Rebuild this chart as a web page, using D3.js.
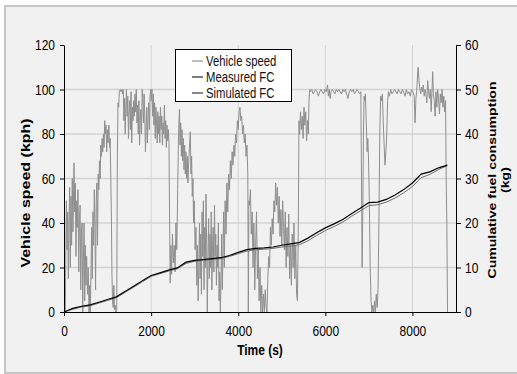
<!DOCTYPE html>
<html>
<head>
<meta charset="utf-8">
<script src="https://cdn.jsdelivr.net/npm/d3@7"></script>
<style>
  body { margin: 0; background: #fff; }
  svg { display: block; }
  text { font-family: "Liberation Sans", Arial, sans-serif; }
</style>
</head>
<body>
<svg id="chart" width="517" height="374"></svg>
<script>
// vehicle speed trace: [time (s), speed (kph)]
const speedData = [
  [0,0],[30,0],[46,35],[55,50],[70,28],[85,45],[100,15],[115,40],[130,56],[145,20],[160,52],[175,30],[190,60],[205,36],[220,55],[230,67],[245,45],[260,58],[275,25],[290,50],[305,38],[320,55],[340,18],[355,42],[370,48],[385,10],[400,35],[415,40],[430,0],[445,22],[460,40],[475,5],[490,30],[505,12],[520,25],[540,8],[555,20],[575,0],[590,12],[605,0],[620,18],[635,38],[650,15],[665,45],[680,30],[695,55],[710,40],[725,10],[740,50],[755,58],[770,30],[785,62],[800,55],[815,68],[830,60],[845,75],[860,70],[875,78],[890,72],[905,80],[920,74],[935,86],[950,80],[965,84],[980,72],[995,82],[1010,76],[1030,84],[1045,74],[1060,78],[1075,60],[1090,40],[1100,18],[1115,5],[1130,2],[1145,12],[1160,1],[1175,3],[1195,0],[1210,1],[1225,70],[1240,94],[1255,92],[1270,99],
  [1290,100],[1310,99],[1330,100],[1345,98],[1360,100],[1375,86],[1390,96],[1405,80],[1420,93],[1435,100],[1450,88],[1465,97],[1480,78],[1495,90],[1510,95],[1525,82],[1540,99],[1555,76],[1570,92],[1585,86],[1600,95],[1615,88],[1630,98],[1645,90],[1660,100],[1675,85],[1690,93],[1705,80],[1720,95],[1735,75],[1750,86],[1765,91],[1780,80],[1795,100],[1810,96],[1825,85],[1840,98],[1855,88],[1870,72],[1885,82],[1900,92],[1915,76],[1930,88],[1945,94],[1960,82],[1975,97],[1990,100],[2005,95],[2020,100],[2035,88],[2050,98],[2065,84],[2080,94],[2095,78],[2110,92],[2125,85],[2140,76],[2155,90],[2170,80],[2185,88],[2200,76],[2215,92],[2230,82],[2245,88],[2260,75],[2275,85],[2290,80],[2305,93],[2320,78],[2335,86],[2350,74],[2365,84],[2380,77],[2395,82],[2410,76],[2425,40],[2438,13],
  [2455,30],[2470,17],[2490,35],[2510,22],[2530,30],[2550,18],[2570,40],[2590,28],[2610,55],[2630,80],[2650,91],[2665,75],[2680,85],[2695,70],[2710,82],[2725,68],[2740,78],[2755,64],[2770,75],[2785,62],[2800,72],[2815,60],[2830,70],[2845,58],[2860,66],[2880,74],[2900,81],[2915,62],[2930,70],[2945,52],[2960,60],[2975,40],[2990,50],[3010,28],[3030,38],[3050,12],[3065,30],[3080,5],[3095,20],[3110,40],[3125,15],[3140,35],[3155,8],[3170,45],[3185,25],[3200,50],[3215,10],[3230,38],[3245,20],[3260,53],[3275,30],[3290,0],[3305,25],[3320,42],[3335,15],[3350,35],[3365,20],[3380,45],[3395,10],[3410,30],[3425,38],[3440,18],[3455,48],[3470,25],[3485,35],[3500,12],[3515,30],[3530,20],[3545,40],[3560,5],[3575,18],[3590,0],[3605,15],[3620,35],[3635,10],[3650,28],[3665,45],[3680,20],[3700,50],[3720,35],[3740,58],[3760,45],[3780,62],[3800,55],[3820,68],[3840,60],[3860,72],[3880,66],[3900,75],[3920,70],[3940,80],[3960,76],[3980,86],[4000,82],[4020,90],[4040,92],[4060,86],[4080,88],[4100,80],[4120,84],[4140,76],[4160,80],[4180,70],[4200,75],[4220,62],[4232,0],[4245,50],[4260,48],[4280,55],[4300,35],
  [4320,45],[4340,20],[4360,40],[4380,10],[4400,30],[4420,45],[4440,15],[4460,28],[4480,5],[4500,20],[4520,0],[4540,12],[4560,0],[4580,8],[4600,0],[4620,10],[4640,2],[4660,0],[4680,15],[4700,25],[4720,20],[4740,38],[4760,30],[4780,42],[4800,35],[4820,50],[4840,45],[4860,58],[4880,48],[4900,56],[4920,40],[4940,52],[4960,34],[4980,46],[5000,30],[5020,50],[5040,38],[5060,28],[5080,45],[5100,20],[5120,38],[5140,25],[5160,44],[5180,15],[5200,30],[5220,12],[5240,35],[5260,20],[5280,40],[5300,15],[5320,30],[5340,8],[5360,5],[5380,40],[5395,86],[5410,80],[5430,90],[5450,82],[5470,88],[5490,78],[5510,92],[5530,84],[5550,90],[5570,77],[5590,86],[5610,80],[5625,95],[5640,100],
  [5660,99],[5690,100],[5720,98],[5750,99],[5780,100],[5810,99],[5840,97],[5870,99],[5900,100],[5930,99],[5960,98],[5990,100],[6020,99],[6050,102],[6070,97],[6090,100],[6110,96],[6130,99],[6160,100],[6190,99],[6220,98],[6250,100],[6280,99],[6310,100],[6340,99],[6370,98],[6400,100],[6430,99],[6460,100],[6490,98],[6520,96],[6550,99],[6580,100],[6610,99],[6640,100],[6670,98],[6700,99],[6730,100],[6760,99],[6790,98],[6815,99],[6830,60],[6845,20],[6860,45],[6875,80],[6890,97],[6905,95],[6920,98],[6940,85],[6960,72],[6975,78],[6990,70],[7010,50],[7030,20],[7050,5],[7070,0],[7090,3],[7110,0],[7130,5],[7150,0],[7170,8],[7190,2],[7210,10],[7230,40],[7250,80],[7270,97],[7290,95],[7310,98],[7330,85],[7350,75],[7370,66],[7390,72],[7410,80],[7430,95],[7450,99],[7470,97],[7500,100],[7530,98],[7560,99],[7590,100],[7620,99],[7650,98],[7680,100],[7710,99],[7740,98],[7770,100],[7800,99],[7830,97],[7860,100],[7890,98],[7920,99],[7950,97],[7980,100],[8010,99],[8040,97],[8060,85],[8080,96],[8100,100],[8115,106],[8130,110],[8150,104],[8170,100],[8190,98],[8210,101],[8230,99],[8250,102],[8270,97],[8290,100],[8310,98],[8330,94],[8350,104],[8370,99],[8390,96],[8410,100],[8430,90],[8450,100],[8465,108],[8480,98],[8500,95],[8520,88],[8540,99],[8560,92],[8580,100],[8600,96],[8620,89],[8640,98],[8660,94],[8680,100],[8700,92],[8720,97],[8740,90],[8760,95],[8775,59],[8790,40],[8805,0]
];

// cumulative fuel consumption (kg)
const fcTime      = [0, 200, 400, 600, 800, 1000, 1200, 1400, 1600, 1800, 2000, 2200, 2400, 2600, 2800, 3000, 3200, 3400, 3600, 3800, 4000, 4200, 4400, 4600, 4800, 5000, 5200, 5400, 5600, 5800, 6000, 6200, 6400, 6600, 6800, 7000, 7200, 7400, 7600, 7800, 8000, 8200, 8400, 8600, 8800];
const measuredFC  = [0, 0.8, 1.3, 1.6, 2.2, 2.8, 3.4, 4.6, 5.8, 7.0, 8.2, 8.8, 9.4, 9.9, 11.2, 11.6, 11.8, 12.0, 12.2, 12.7, 13.4, 14.0, 14.3, 14.4, 14.6, 15.0, 15.3, 15.6, 16.6, 17.8, 18.9, 19.8, 20.8, 22.1, 23.3, 24.6, 24.7, 25.3, 26.3, 27.5, 29.0, 31.0, 31.5, 32.4, 33.0];
const simulatedFC = [0, 0.6, 1.1, 1.4, 2.0, 2.6, 3.2, 4.4, 5.6, 6.8, 8.0, 8.6, 9.2, 9.7, 10.9, 11.4, 11.6, 11.8, 12.0, 12.5, 13.1, 13.7, 14.0, 14.1, 14.3, 14.6, 14.8, 15.1, 16.0, 17.2, 18.3, 19.2, 20.2, 21.5, 22.7, 23.9, 24.1, 24.7, 25.6, 26.8, 28.2, 30.2, 30.9, 32.0, 32.9];

const seriesNames = ["Vehicle speed", "Measured FC", "Simulated FC"];
const xTicks = [0, 2000, 4000, 6000, 8000];
const speedTicks = [0, 20, 40, 60, 80, 100, 120];
const fcTicks = [0, 10, 20, 30, 40, 50, 60];

const colors = { speed: "#8e8e8e", measured: "#000", simulated: "#6e6e6e" };
const stretch = 1.28; // text in the picture is drawn taller than its width suggests

const svg = d3.select("#chart");
const plotLeft = 64, plotRight = 456, plotTop = 45, plotBottom = 312;

// chart area background and border
svg.append("rect")
  .attr("x", 5).attr("y", 6).attr("width", 530).attr("height", 367)
  .attr("fill", "#f1f1f1").attr("stroke", "#c6c6c6").attr("stroke-width", 2);

const x = d3.scaleLinear().domain([0, 9000]).range([plotLeft, plotRight]);
const ySpeed = d3.scaleLinear().domain([0, 120]).range([plotBottom, plotTop]);
const yFC = d3.scaleLinear().domain([0, 60]).range([plotBottom, plotTop]);

// gridlines
svg.append("g")
  .selectAll("line")
  .data(speedTicks.filter(d => d > 0 && d < 120))
  .join("line")
  .attr("x1", plotLeft).attr("x2", plotRight)
  .attr("y1", d => ySpeed(d)).attr("y2", d => ySpeed(d))
  .attr("stroke", "#d3d3d3").attr("stroke-width", 1.5);

svg.append("g")
  .selectAll("line")
  .data(xTicks.filter(d => d > 0))
  .join("line")
  .attr("x1", d => x(d)).attr("x2", d => x(d))
  .attr("y1", plotTop).attr("y2", plotBottom)
  .attr("stroke", "#d3d3d3").attr("stroke-width", 1);

// vehicle speed
svg.append("path")
  .datum(speedData)
  .attr("fill", "none")
  .attr("stroke", colors.speed)
  .attr("stroke-width", 1)
  .attr("d", d3.line().x(d => x(d[0])).y(d => ySpeed(d[1])));

// fuel lines
const fcLine = d3.line().x((d, i) => x(fcTime[i])).y(d => yFC(d));

svg.append("path")
  .datum(simulatedFC)
  .attr("fill", "none")
  .attr("stroke", colors.simulated)
  .attr("stroke-width", 1)
  .attr("d", fcLine);

svg.append("path")
  .datum(measuredFC)
  .attr("fill", "none")
  .attr("stroke", colors.measured)
  .attr("stroke-width", 1.2)
  .attr("d", fcLine);

// axes
function styleAxis(g) {
  g.selectAll("path, line").attr("stroke", "#000");
  g.selectAll("text")
    .attr("font-size", 12)
    .attr("fill", "#000")
    .attr("transform", `scale(1,${stretch})`);
}

svg.append("g")
  .attr("transform", `translate(${plotLeft},0)`)
  .call(d3.axisLeft(ySpeed).tickValues(speedTicks).tickSize(4).tickPadding(5).tickSizeOuter(0))
  .call(styleAxis);

svg.append("g")
  .attr("transform", `translate(${plotRight},0)`)
  .call(d3.axisRight(yFC).tickValues(fcTicks).tickSize(5).tickPadding(4).tickSizeOuter(0))
  .call(styleAxis);

svg.append("g")
  .attr("transform", `translate(0,${plotBottom})`)
  .call(d3.axisBottom(x).tickValues(xTicks).tickFormat(d3.format("d")).tickSize(4).tickPadding(6).tickSizeOuter(0))
  .call(styleAxis);

// axis titles
svg.append("text")
  .attr("transform", `translate(26,193) scale(1,${stretch}) rotate(-90)`)
  .attr("text-anchor", "middle").attr("dy", "0.35em")
  .attr("font-size", 12.5).attr("font-weight", "bold")
  .text("Vehicle speed (kph)");

svg.append("text")
  .attr("transform", `translate(492,180) scale(1,${stretch}) rotate(-90)`)
  .attr("text-anchor", "middle").attr("dy", "0.35em")
  .attr("font-size", 11).attr("font-weight", "bold")
  .text("Cumulative fuel consumption");

svg.append("text")
  .attr("transform", `translate(505,180) scale(1,${stretch}) rotate(-90)`)
  .attr("text-anchor", "middle").attr("dy", "0.35em")
  .attr("font-size", 11).attr("font-weight", "bold")
  .text("(kg)");

svg.append("text")
  .attr("transform", `translate(260,355) scale(1,${stretch})`)
  .attr("text-anchor", "middle")
  .attr("font-size", 12).attr("font-weight", "bold")
  .text("Time (s)");

// legend
const legend = svg.append("g");
legend.append("rect")
  .attr("x", 175.5).attr("y", 49.5).attr("width", 116).attr("height", 52)
  .attr("fill", "#fff").attr("stroke", "#000");

const legendColors = ["#a8a8a8", "#505050", "#606060"];
const rows = legend.selectAll("g.row")
  .data(seriesNames)
  .join("g")
  .attr("class", "row")
  .attr("transform", (d, i) => `translate(0,${61 + i * 16})`);

rows.append("line")
  .attr("x1", 192).attr("x2", 203)
  .attr("stroke", (d, i) => legendColors[i]).attr("stroke-width", 1.5);

rows.append("text")
  .attr("transform", `translate(206,0) scale(1,${stretch})`)
  .attr("dy", "0.35em")
  .attr("font-size", 11.3)
  .attr("fill", "#111")
  .text(d => d);
</script>
</body>
</html>
